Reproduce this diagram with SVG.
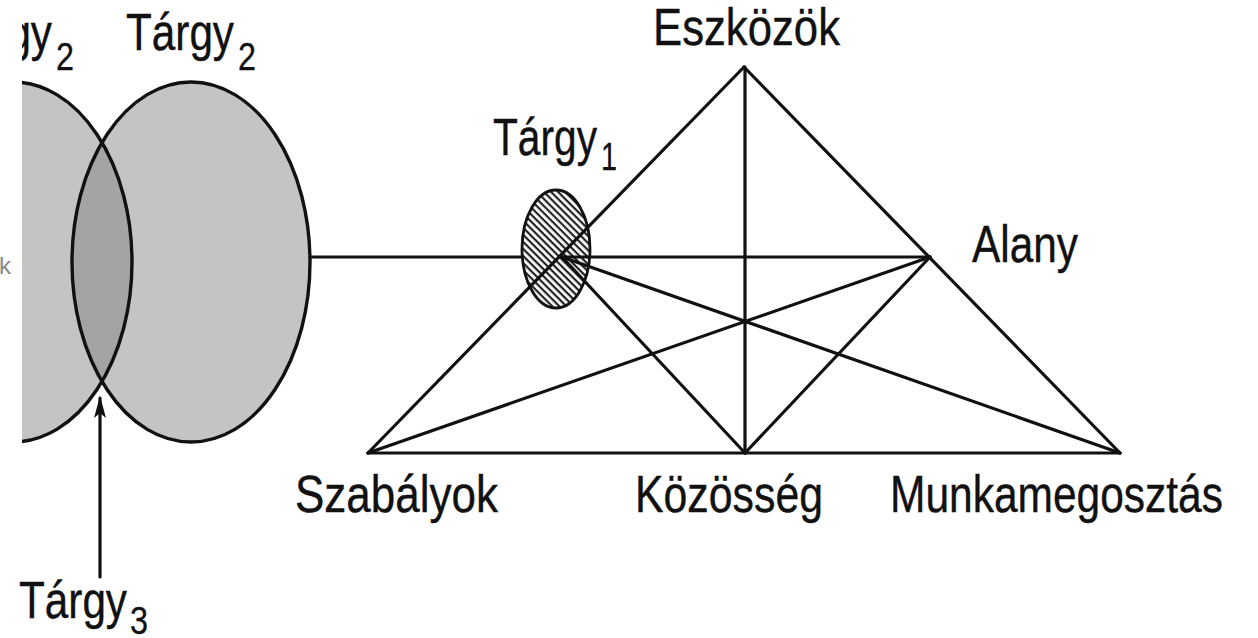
<svg xmlns="http://www.w3.org/2000/svg" width="1258" height="638" viewBox="0 0 1258 638">
  <style>
    .lbl { font-family: "Liberation Sans", Arial, sans-serif; font-size: 52px; fill: #111; stroke: #111; stroke-width: 0.4; }
    .sub { font-family: "Liberation Sans", Arial, sans-serif; font-size: 38px; fill: #111; stroke: #111; stroke-width: 0.3; }
    .edge { stroke: #111; stroke-width: 3.2; fill: none; stroke-linecap: round; }
    .outline { stroke: #111; stroke-width: 3.4; fill: none; }
  </style>
  <defs>
    <clipPath id="clipLeft">
      <rect x="22" y="0" width="1236" height="638"/>
    </clipPath>
    <clipPath id="clipRightEllipse">
      <ellipse cx="191" cy="262" rx="119" ry="180"/>
    </clipPath>
    <pattern id="hatch" patternUnits="userSpaceOnUse" width="5" height="5" patternTransform="rotate(45)">
      <rect x="0" y="0" width="5" height="5" fill="#fff"/>
      <rect x="0" y="0" width="5" height="2.2" fill="#222"/>
    </pattern>
    <marker id="arrow" viewBox="0 0 22 12" refX="20" refY="6" markerWidth="22" markerHeight="12" markerUnits="userSpaceOnUse" orient="auto">
      <path d="M22,6 L0,0 L5,6 L0,12 Z" fill="#111"/>
    </marker>
  </defs>
  <rect x="0" y="0" width="1258" height="638" fill="#fff"/>

  <!-- Venn of Tárgy2 objects -->
  <g id="node-targy2-left" clip-path="url(#clipLeft)">
    <ellipse cx="13" cy="262" rx="119" ry="180" fill="#c6c4c2"/>
    <text class="lbl" x="-56" y="50" textLength="108" lengthAdjust="spacingAndGlyphs">Tárgy</text>
    <text class="sub" x="56" y="70" textLength="18" lengthAdjust="spacingAndGlyphs">2</text>
  </g>
  <g id="node-targy2-right">
    <ellipse cx="191" cy="262" rx="119" ry="180" fill="#c6c4c2"/>
    <text class="lbl" x="126" y="50" textLength="108" lengthAdjust="spacingAndGlyphs">Tárgy</text>
    <text class="sub" x="238" y="70" textLength="18" lengthAdjust="spacingAndGlyphs">2</text>
  </g>
  <g id="node-targy3">
    <g clip-path="url(#clipRightEllipse)">
      <ellipse cx="13" cy="262" rx="119" ry="180" fill="#a6a4a2"/>
    </g>
    <text class="lbl" x="19" y="618" textLength="108" lengthAdjust="spacingAndGlyphs">Tárgy</text>
    <text class="sub" x="130" y="634" textLength="18" lengthAdjust="spacingAndGlyphs">3</text>
  </g>
  <g id="venn-outlines">
    <g clip-path="url(#clipLeft)">
      <ellipse class="outline" cx="13" cy="262" rx="119" ry="180"/>
    </g>
    <ellipse class="outline" cx="191" cy="262" rx="119" ry="180"/>
  </g>
  <text x="-1" y="274" font-family="Liberation Sans, Arial, sans-serif" font-size="24" fill="#888">k</text>

  <!-- Connectors -->
  <g id="connectors">
    <line class="edge" x1="100" y1="577" x2="100" y2="398" marker-end="url(#arrow)" stroke-linecap="butt"/>
    <line class="edge" x1="310" y1="257" x2="523" y2="257"/>
  </g>

  <g id="node-targy1">
    <ellipse cx="556" cy="249" rx="34" ry="59" fill="url(#hatch)" stroke="#111" stroke-width="2.8"/>
    <text class="lbl" x="493" y="155" textLength="104" lengthAdjust="spacingAndGlyphs">Tárgy</text>
    <text class="sub" x="601" y="170" textLength="16" lengthAdjust="spacingAndGlyphs">1</text>
  </g>

  <g id="triangle-edges">
    <line class="edge" x1="744" y1="67" x2="368" y2="453"/>
    <line class="edge" x1="744" y1="67" x2="1120" y2="453"/>
    <line class="edge" x1="368" y1="453" x2="1120" y2="453"/>
    <line class="edge" x1="745" y1="67" x2="745" y2="453"/>
    <line class="edge" x1="562" y1="257" x2="930" y2="257"/>
    <line class="edge" x1="562" y1="257" x2="745" y2="453"/>
    <line class="edge" x1="930" y1="257" x2="745" y2="453"/>
    <line class="edge" x1="562" y1="257" x2="1120" y2="453"/>
    <line class="edge" x1="930" y1="257" x2="368" y2="453"/>
  </g>

  <g id="node-eszkozok">
    <text class="lbl" x="653" y="45" textLength="187" lengthAdjust="spacingAndGlyphs">Eszközök</text>
  </g>
  <g id="node-alany">
    <text class="lbl" x="972" y="262" textLength="106" lengthAdjust="spacingAndGlyphs">Alany</text>
  </g>
  <g id="node-szabalyok">
    <text class="lbl" x="295" y="512" textLength="203" lengthAdjust="spacingAndGlyphs">Szabályok</text>
  </g>
  <g id="node-kozosseg">
    <text class="lbl" x="635" y="512" textLength="188" lengthAdjust="spacingAndGlyphs">Közösség</text>
  </g>
  <g id="node-munkamegosztas">
    <text class="lbl" x="890" y="512" textLength="333" lengthAdjust="spacingAndGlyphs">Munkamegosztás</text>
  </g>
</svg>
